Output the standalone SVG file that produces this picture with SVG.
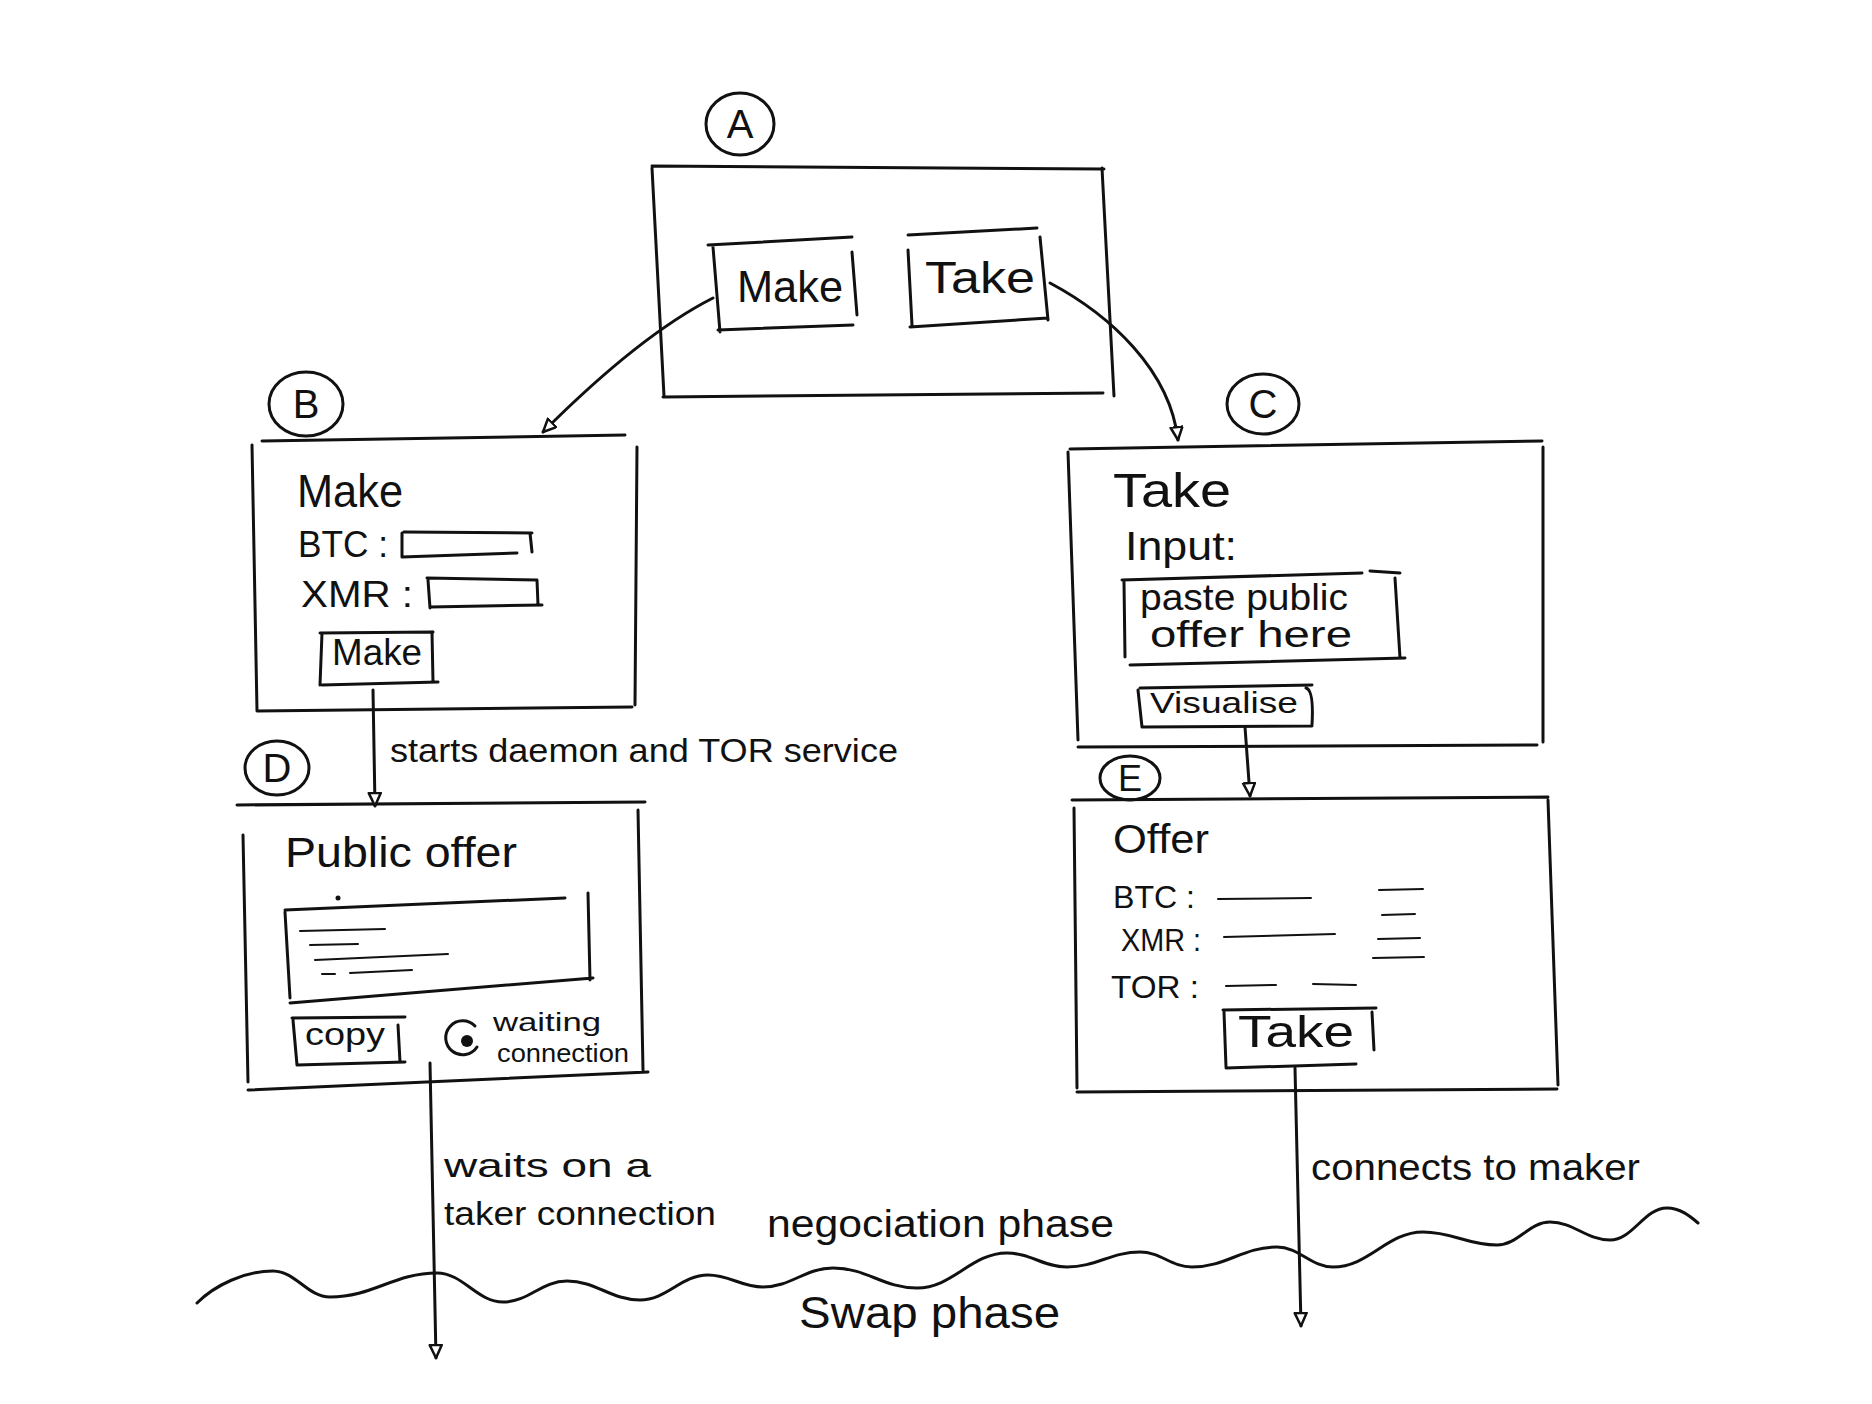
<svg xmlns="http://www.w3.org/2000/svg" width="1872" height="1404" viewBox="0 0 1872 1404">
<style>
.s{fill:none;stroke:#111;stroke-width:3;stroke-linecap:round;stroke-linejoin:round}
.t{stroke:#111;stroke-width:2;stroke-linecap:round}
text{font-family:"Liberation Sans",Arial,sans-serif;fill:#111}
</style>
<defs>
<marker id="ah" markerUnits="userSpaceOnUse" markerWidth="18" markerHeight="18" refX="14" refY="7" orient="auto">
<path d="M1,1 L14,7 L1,13 Z" fill="#fff" stroke="#111" stroke-width="2.5" stroke-linejoin="round"/>
</marker>
</defs>
<rect width="1872" height="1404" fill="#fff"/>

<g id="nodeA">
<ellipse class="s" cx="740" cy="124" rx="34" ry="31"/>
<text x="740" y="138" font-size="40" text-anchor="middle">A</text>
<path class="s" d="M652,166 L1104,169 M652,168 L664,396 M663,397 L1103,393 M1102,168 L1114,396"/>
<g id="btnMakeA">
<path class="s" d="M708,245 L852,237 M713,247 L720,332 M718,330 L853,325 M852,252 L857,315"/>
<text x="737" y="302" font-size="44" textLength="106" lengthAdjust="spacingAndGlyphs">Make</text>
</g>
<g id="btnTakeA">
<path class="s" d="M908,235 L1037,228 M908,250 L912,325 M910,327 L1048,318 M1040,237 L1048,320"/>
<text x="925" y="293" font-size="44" textLength="110" lengthAdjust="spacingAndGlyphs">Take</text>
</g>
</g>

<g id="nodeB">
<ellipse class="s" cx="306" cy="404" rx="37" ry="32"/>
<text x="306" y="418" font-size="40" text-anchor="middle">B</text>
<path class="s" d="M262,441 L625,435 M252,445 L257,711 M257,711 L632,707 M637,447 L635,705"/>
<text x="297" y="507" font-size="46" textLength="106" lengthAdjust="spacingAndGlyphs">Make</text>
<text x="298" y="557" font-size="36" textLength="90" lengthAdjust="spacingAndGlyphs">BTC :</text>
<path class="s" d="M404,532 L532,533 M402,533 L402,557 M402,557 L517,553 M530,533 L532,552"/>
<text x="301" y="607" font-size="36" textLength="112" lengthAdjust="spacingAndGlyphs">XMR :</text>
<path class="s" d="M427,578 L537,580 M428,580 L430,608 M430,607 L542,605 M537,580 L538,605"/>
<g id="btnMakeB">
<path class="s" d="M320,633 L433,632 M322,633 L320,685 M322,685 L438,682 M432,632 L433,682"/>
<text x="332" y="665" font-size="36" textLength="90" lengthAdjust="spacingAndGlyphs">Make</text>
</g>
</g>

<g id="nodeC">
<ellipse class="s" cx="1263" cy="404" rx="36" ry="30"/>
<text x="1263" y="418" font-size="40" text-anchor="middle">C</text>
<path class="s" d="M1070,449 L1542,441 M1068,452 L1078,740 M1078,747 L1537,745 M1543,447 L1543,742"/>
<text x="1113" y="507" font-size="48" textLength="118" lengthAdjust="spacingAndGlyphs">Take</text>
<text x="1125" y="560" font-size="40" textLength="112" lengthAdjust="spacingAndGlyphs">Input:</text>
<path class="s" d="M1122,580 L1362,573 M1370,571 L1400,573 M1124,582 L1125,657 M1395,578 L1400,658 M1130,665 L1405,658"/>
<text x="1140" y="610" font-size="36" textLength="208" lengthAdjust="spacingAndGlyphs">paste public</text>
<text x="1150" y="647" font-size="36" textLength="202" lengthAdjust="spacingAndGlyphs">offer here</text>
<g id="btnVisualise">
<path class="s" d="M1140,688 L1312,685 M1138,690 L1142,727 M1142,727 L1312,726 M1306,688 Q1314,690 1312,725"/>
<text x="1150" y="713" font-size="30" textLength="148" lengthAdjust="spacingAndGlyphs">Visualise</text>
</g>
</g>

<g id="nodeD">
<ellipse class="s" cx="277" cy="768" rx="32" ry="27"/>
<text x="277" y="782" font-size="40" text-anchor="middle">D</text>
<path class="s" d="M237,805 L645,802 M243,835 L248,1082 M248,1090 L648,1072 M638,810 L643,1070"/>
<text x="285" y="867" font-size="42" textLength="232" lengthAdjust="spacingAndGlyphs">Public offer</text>
<circle cx="338" cy="898" r="2.5" fill="#111"/>
<path class="s" d="M285,910 L565,898 M588,893 L590,980 M285,912 L290,998 M290,1003 L593,978"/>
<path class="t" d="M300,931 L385,929 M310,945 L358,944 M315,960 L448,954 M322,974 L335,974 M350,973 L412,970"/>
<g id="btnCopy">
<path class="s" d="M292,1018 L405,1017 M293,1020 L297,1065 M297,1065 L405,1062 M398,1025 L400,1062"/>
<text x="305" y="1045" font-size="32" textLength="80" lengthAdjust="spacingAndGlyphs">copy</text>
</g>
<path class="s" d="M475,1026 A17,17 0 1 0 477,1047"/>
<circle cx="467" cy="1041" r="6" fill="#111"/>
<text x="493" y="1031" font-size="25" textLength="108" lengthAdjust="spacingAndGlyphs">waiting</text>
<text x="497" y="1062" font-size="25" textLength="132" lengthAdjust="spacingAndGlyphs">connection</text>
</g>

<g id="nodeE">
<ellipse class="s" cx="1130" cy="778" rx="30" ry="22"/>
<text x="1130" y="791" font-size="36" text-anchor="middle">E</text>
<path class="s" d="M1072,800 L1548,797 M1074,808 L1077,1088 M1077,1092 L1557,1089 M1548,800 L1558,1085"/>
<text x="1113" y="853" font-size="40" textLength="96" lengthAdjust="spacingAndGlyphs">Offer</text>
<text x="1113" y="908" font-size="32" textLength="82" lengthAdjust="spacingAndGlyphs">BTC :</text>
<text x="1121" y="951" font-size="32" textLength="80" lengthAdjust="spacingAndGlyphs">XMR :</text>
<text x="1111" y="998" font-size="32" textLength="88" lengthAdjust="spacingAndGlyphs">TOR :</text>
<path class="t" d="M1218,899 L1311,898 M1224,937 L1335,934 M1226,986 L1276,985 M1313,984 L1356,985 M1379,890 L1423,889 M1382,915 L1415,914 M1378,939 L1420,938 M1373,958 L1424,957"/>
<g id="btnTakeE">
<path class="s" d="M1223,1010 L1376,1008 M1224,1012 L1226,1067 M1226,1068 L1356,1064 M1372,1012 L1374,1050"/>
<text x="1238" y="1047" font-size="44" textLength="116" lengthAdjust="spacingAndGlyphs">Take</text>
</g>
</g>

<g id="connectors">
<path class="s" d="M713,298 Q640,335 543,432" marker-end="url(#ah)"/>
<path class="s" d="M1050,283 C1110,315 1170,370 1178,440" marker-end="url(#ah)"/>
<path class="s" d="M373,690 L375,806" marker-end="url(#ah)"/>
<path class="s" d="M1245,727 L1250,796" marker-end="url(#ah)"/>
<path class="s" d="M430,1063 L436,1358" marker-end="url(#ah)"/>
<path class="s" d="M1295,1068 L1301,1326" marker-end="url(#ah)"/>
<text x="390" y="762" font-size="34" textLength="508" lengthAdjust="spacingAndGlyphs">starts daemon and TOR service</text>
<text x="444" y="1177" font-size="34" textLength="207" lengthAdjust="spacingAndGlyphs">waits on a</text>
<text x="444" y="1225" font-size="34" textLength="272" lengthAdjust="spacingAndGlyphs">taker connection</text>
<text x="1311" y="1180" font-size="36" textLength="329" lengthAdjust="spacingAndGlyphs">connects to maker</text>
</g>

<g id="phases">
<path class="s" d="M197,1303 C215,1285 245,1271 273,1271 C296,1271 307,1297 330,1297 C373,1297 394,1273 437,1273 C463,1273 477,1302 503,1302 C529,1302 541,1281 567,1281 C596,1281 611,1300 640,1300 C667,1300 681,1275 708,1275 C730,1275 741,1287 763,1287 C791,1287 805,1268 833,1268 C867,1268 883,1288 917,1288 C953,1288 971,1253 1007,1253 C1031,1253 1043,1267 1067,1267 C1096,1267 1111,1252 1140,1252 C1161,1252 1171,1267 1192,1267 C1226,1267 1243,1247 1277,1247 C1299,1247 1311,1267 1333,1267 C1369,1267 1387,1232 1423,1232 C1453,1232 1467,1245 1497,1245 C1518,1245 1529,1222 1550,1222 C1574,1222 1586,1240 1610,1240 C1633,1240 1644,1208 1667,1208 C1680,1208 1690,1216 1698,1223"/>
<text x="767" y="1237" font-size="38" textLength="347" lengthAdjust="spacingAndGlyphs">negociation phase</text>
<text x="799" y="1328" font-size="44" textLength="261" lengthAdjust="spacingAndGlyphs">Swap phase</text>
</g>
</svg>
